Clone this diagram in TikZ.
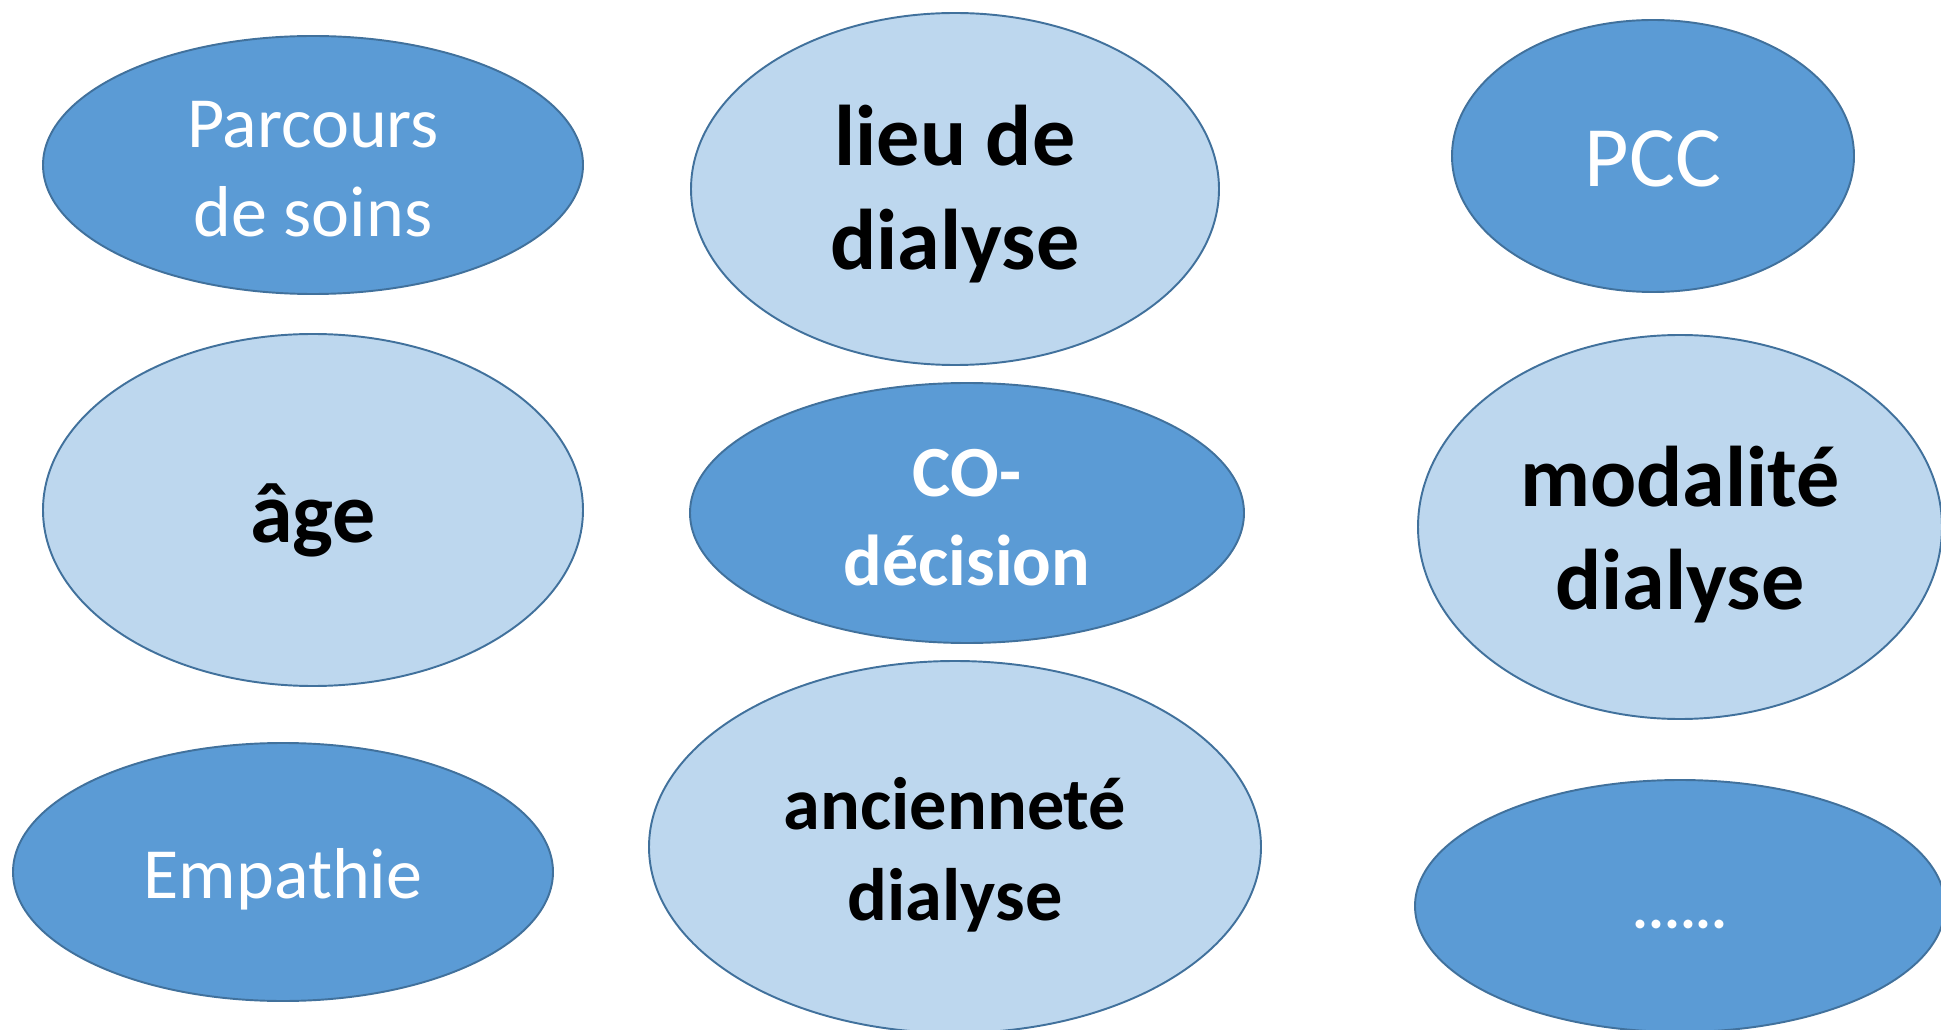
\documentclass[tikz,border=0pt]{standalone}
\usepackage{fontspec}
\setmainfont{Carlito}
\definecolor{bulfonce}{RGB}{91,155,213}
\definecolor{bulclair}{RGB}{189,215,238}
\definecolor{bulbord}{RGB}{65,113,156}
\newcommand{\txtgrand}{\fontsize{49}{59}\selectfont}
\newcommand{\txtmoyen}{\fontsize{41}{50.5}\selectfont}
\newcommand{\txtancien}{\fontsize{42.3}{52}\selectfont}
\newcommand{\txtpetit}{\fontsize{34}{40}\selectfont}
% lowers a line of text without changing the node size
\newcommand{\bas}[2][0.12cm]{\raisebox{-#1}[\height][\depth]{#2}}
\usetikzlibrary{shapes.geometric}
\tikzset{
  bulle/.style={ellipse, draw=bulbord, line width=1.1pt, inner sep=0pt, align=center},
  fonce/.style={bulle, fill=bulfonce, text=white},
  clair/.style={bulle, fill=bulclair, text=black, font=\bfseries},
}

\begin{document}
\begin{tikzpicture}[x=0.02cm, y=-0.02cm]
  \useasboundingbox (0,0) rectangle (1941,1030);
  \clip (0,0) rectangle (1941,1030);

  % Left column
  \node[fonce, minimum width=540*0.02cm, minimum height=258*0.02cm, font=\txtmoyen] (parcours) at (313,165) {\bas[0.08cm]{Parcours}\\\bas[0.08cm]{de soins}};
  \node[clair, minimum width=540*0.02cm, minimum height=352*0.02cm, font=\txtgrand\bfseries] (age) at (313,510) {\bas[0.2cm]{âge}};
  \node[fonce, minimum width=540*0.02cm, minimum height=258*0.02cm, font=\txtmoyen] (empathie) at (283,872) {\bas[0.15cm]{Empathie}};

  % Middle column
  \node[clair, minimum width=528*0.02cm, minimum height=352*0.02cm, font=\txtgrand\bfseries] (lieu) at (955,189) {\bas[0.1cm]{lieu de}\\\bas[0.1cm]{dialyse}};
  \node[fonce, minimum width=554*0.02cm, minimum height=260*0.02cm, font=\txtmoyen\bfseries] (codecision) at (967,513) {\bas[0.09cm]{CO-}\\\bas[0.09cm]{décision}};
  \node[clair, minimum width=612*0.02cm, minimum height=372*0.02cm, font=\txtancien\bfseries] (anciennete) at (955,847) {\bas[0.15cm]{ancienneté}\\\bas[0.15cm]{dialyse}};

  % Right column
  \node[fonce, minimum width=402*0.02cm, minimum height=272*0.02cm, font=\txtgrand] (pcc) at (1653,156) {\bas[0.05cm]{PCC}};
  \node[clair, minimum width=524*0.02cm, minimum height=384*0.02cm, font=\txtgrand\bfseries] (modalite) at (1680,527) {\bas[0.15cm]{modalité}\\\bas[0.15cm]{dialyse}};
  \node[fonce, minimum width=530*0.02cm, minimum height=252*0.02cm, font=\txtpetit\bfseries] (etc) at (1680,906) {\bas[0.37cm]{......}};
\end{tikzpicture}
\end{document}
